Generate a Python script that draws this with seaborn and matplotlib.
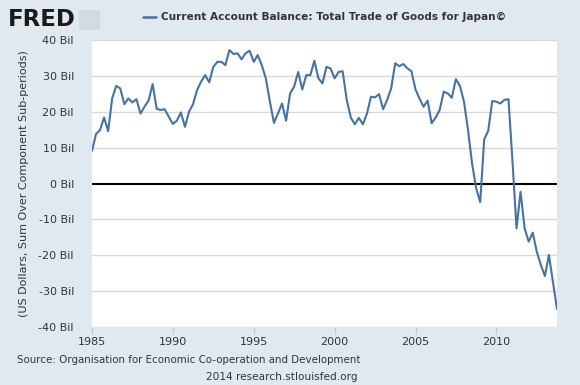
import numpy as np
import pandas as pd
import matplotlib
matplotlib.use("Agg")
import matplotlib.pyplot as plt
import matplotlib.dates as mdates
from matplotlib.patches import FancyBboxPatch
import seaborn as sns

# quarterly values, billions of US dollars, 1985Q1 - 2013Q4
balance = [
    9.1, 13.8, 14.9, 18.4, 14.6, 23.7, 27.2, 26.5, 22.1, 23.7,
    22.6, 23.5, 19.5, 21.4, 23.1, 27.7, 20.8, 20.5, 20.7, 18.6,
    16.6, 17.5, 19.8, 15.8, 20.0, 22.1, 26.0, 28.4, 30.2, 28.2,
    32.5, 33.9, 33.9, 33.0, 37.2, 36.1, 36.3, 34.6, 36.3, 37.0,
    33.9, 35.8, 33.0, 29.3, 22.8, 16.9, 19.5, 22.3, 17.5, 25.1,
    27.0, 31.1, 26.2, 30.2, 30.2, 34.2, 29.3, 27.9, 32.5, 32.1,
    29.3, 31.1, 31.3, 23.3, 18.4, 16.5, 18.3, 16.5, 19.5, 24.2,
    24.0, 24.9, 20.7, 23.3, 26.5, 33.5, 32.7, 33.3, 32.1, 31.3,
    26.2, 23.7, 21.4, 23.1, 16.8, 18.4, 20.5, 25.6, 25.1, 23.9,
    29.1, 27.2, 22.8, 14.9, 5.6, -1.3, -5.2, 12.3, 14.7, 23.0,
    22.8, 22.3, 23.3, 23.5, 6.0, -12.5, -2.3, -12.5, -16.2, -13.7,
    -19.0, -22.7, -25.8, -19.9, -27.4, -35.0,
]
dates = pd.date_range("1985-01-01", periods=len(balance), freq="QS")
y_ticks = [-40, -30, -20, -10, 0, 10, 20, 30, 40]
y_labels = [f"{v} Bil" for v in y_ticks]

title = "Current Account Balance: Total Trade of Goods for Japan\u00a9"
source = "Source: Organisation for Economic Co-operation and Development"
footer = "2014 research.stlouisfed.org"

bg = "#e1e9f0"
line_color = "#4572a7"
text_color = "#333333"

sns.set_theme(style="white")
plt.rcParams["font.family"] = ["DejaVu Sans"]

fig = plt.figure(figsize=(5.8, 3.85), dpi=100, facecolor=bg)
ax = fig.add_axes([92 / 580, 58 / 385, 465 / 580, 287 / 385])
ax.set_facecolor("white")

df = pd.DataFrame({"date": dates, "value": balance})
sns.lineplot(data=df, x="date", y="value", ax=ax, color=line_color, lw=1.5)

ax.axhline(0, color="black", lw=1.5, zorder=1)
for v in y_ticks:
    if v != 0:
        ax.axhline(v, color="#d9d9d9", lw=1, zorder=0)

ax.set_ylim(-40, 40)
ax.set_xlim(dates[0], dates[-1])
ax.set_yticks(y_ticks)
ax.set_yticklabels(y_labels, fontsize=8, color=text_color)
ax.xaxis.set_major_locator(mdates.YearLocator(5))
ax.xaxis.set_major_formatter(mdates.DateFormatter("%Y"))
ax.tick_params(axis="x", labelsize=8, labelcolor=text_color, length=5,
               color="#c8c8c8", width=1, direction="out", bottom=True, pad=2)
ax.tick_params(axis="y", length=0, pad=13)
for s in ax.spines.values():
    s.set_visible(False)

ax.set_xlabel("")
ax.set_ylabel("(US Dollars, Sum Over Component Sub-periods)", fontsize=8,
              color=text_color, labelpad=7)

# header: logo text and legend-like title
fig.text(8 / 580, 1 - 19 / 385, "FRED", fontsize=16.5, fontweight="heavy",
         color="#1a1a1a", va="center", ha="left")
fig.add_artist(FancyBboxPatch((80 / 580, 1 - 29 / 385), 19 / 580, 18 / 385,
                              boxstyle="round,pad=0.002", fc="#d4dbe0",
                              ec="none", transform=fig.transFigure))
fig.add_artist(plt.Line2D([143 / 580, 156 / 580], [1 - 17 / 385, 1 - 17 / 385],
                          color=line_color, lw=1.8))
fig.text(161 / 580, 1 - 17 / 385, title, fontsize=7.6, fontweight="bold",
         color=text_color, va="center", ha="left")

fig.text(17 / 580, 1 - 360 / 385, source, fontsize=7.4, color=text_color,
         va="center", ha="left")
fig.text(282 / 580, 1 - 377 / 385, footer, fontsize=7.6, color=text_color,
         va="center", ha="center")

fig.savefig("out.png", dpi=100, facecolor=bg)
